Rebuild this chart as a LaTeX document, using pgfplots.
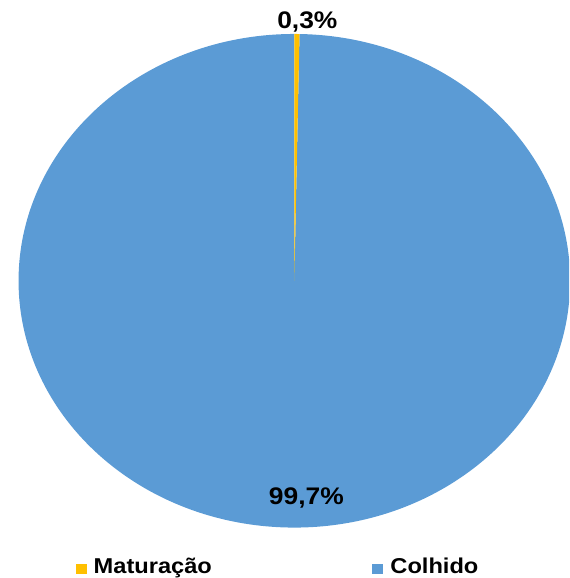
\documentclass[border=0pt]{standalone}
\usepackage{pgfplots}
\pgfplotsset{compat=1.18}
\usepackage{pgfplotstable}
\usepackage{fontspec}
\setmainfont{Liberation Sans}

\definecolor{colhido}{HTML}{5B9BD5}
\definecolor{matur}{HTML}{FFC000}

% percent of each slice
\pgfplotstableread{
nome valor
Maturacao 0.3
Colhido 99.7
}\piedata

\begin{document}
\pgfplotstablegetelem{0}{valor}\of\piedata\let\va\pgfplotsretval
\pgfplotstablegetelem{1}{valor}\of\piedata\let\vb\pgfplotsretval
\pgfmathsetmacro\angA{90-3.6*\va}
\pgfmathsetmacro\angB{\angA-3.6*\vb}
\begin{tikzpicture}[x=1pt,y=1pt]
\path (0,0) rectangle (564,578);
\begin{scope}
\clip (0,0) rectangle (564,578);
\begin{axis}[
    at={(13pt,50pt)}, anchor=south west,
    width=552pt, height=494pt, scale only axis,
    xmin=-1, xmax=1, ymin=-1, ymax=1,
    hide axis, clip=false,
]
\fill[colhido] (axis cs:0,0) -- (axis cs:{cos(\angA)},{sin(\angA)})
    arc[start angle=\angA, end angle=\angB, x radius=276pt, y radius=247pt] -- cycle;
\fill[matur] (axis cs:0,0) -- (axis cs:0,1)
    arc[start angle=90, end angle=\angA, x radius=276pt, y radius=247pt] -- cycle;
\end{axis}
\end{scope}
\node[font=\bfseries\fontsize{24}{24}\selectfont, inner sep=0pt] at (302,556) {\scalebox{1.1}[1]{0,3\%}};
\node[font=\bfseries\fontsize{24}{24}\selectfont, inner sep=0pt] at (301,80) {\scalebox{1.1}[1]{99,7\%}};
\fill[matur] (71,4) rectangle (82,14);
\node[font=\bfseries\fontsize{21.5}{21.5}\selectfont, anchor=base west, inner sep=0pt] at (88,4) {\scalebox{1.1}[1]{Maturação}};
\fill[colhido] (367,4) rectangle (378,14);
\node[font=\bfseries\fontsize{21.5}{21.5}\selectfont, anchor=base west, inner sep=0pt] at (385,4) {\scalebox{1.1}[1]{Colhido}};
\end{tikzpicture}
\end{document}
